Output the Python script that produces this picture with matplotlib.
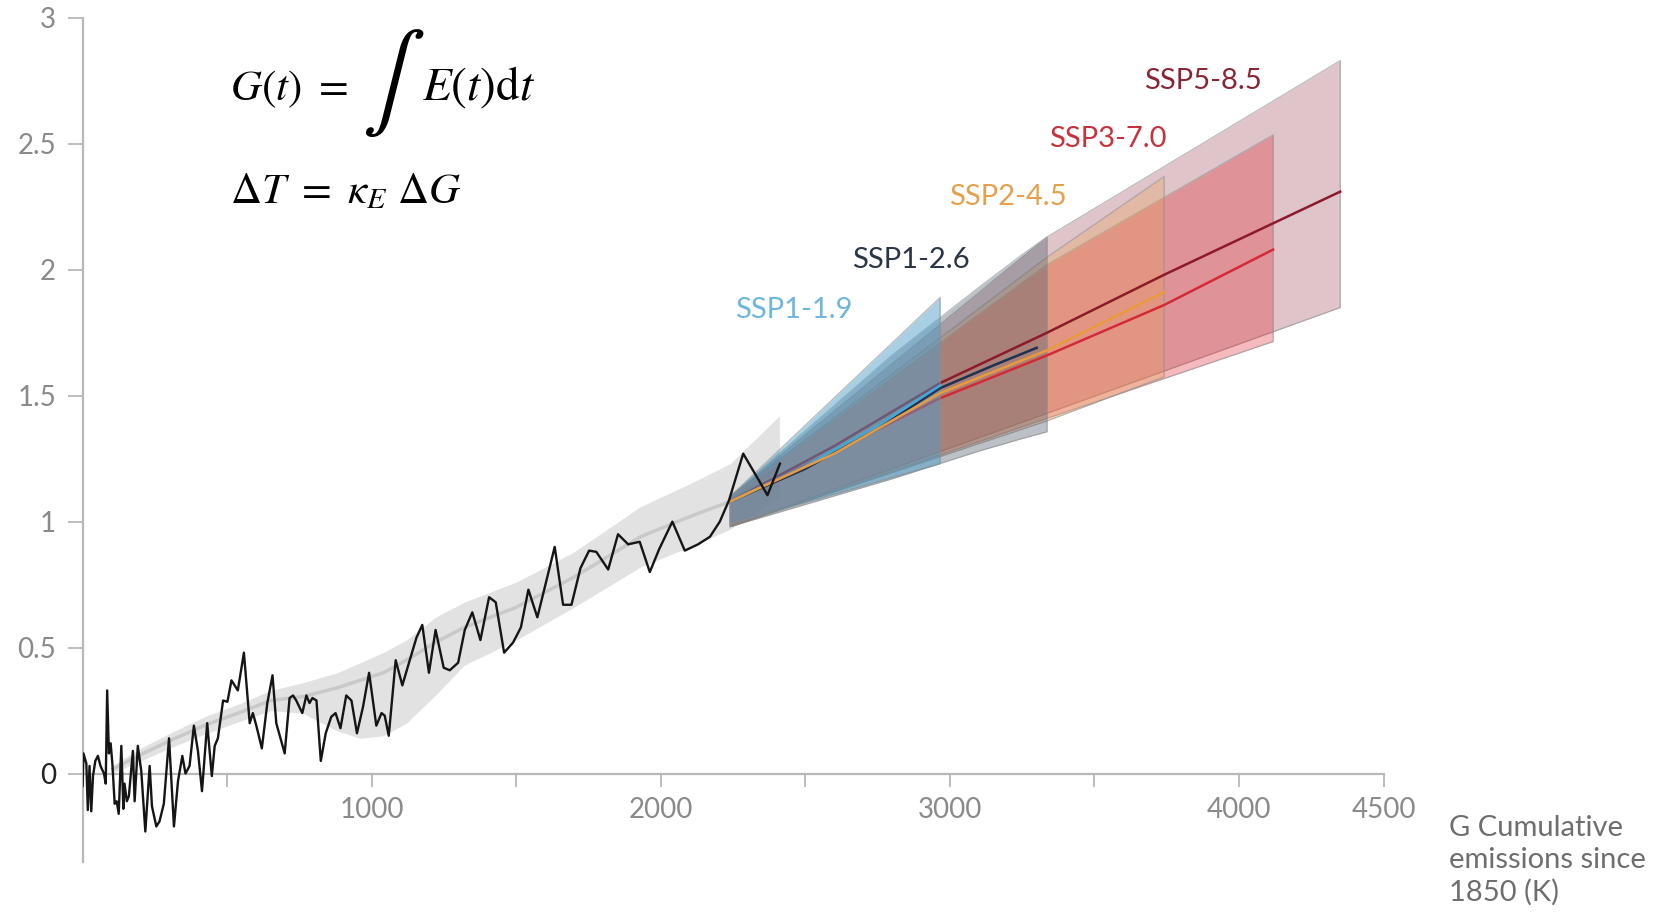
import numpy as np
import matplotlib.pyplot as plt
from matplotlib.ticker import FixedLocator, FixedFormatter

plt.rcParams['font.family'] = ['Lato', 'DejaVu Sans']
plt.rcParams['mathtext.fontset'] = 'stix'

# Observed warming (K) against cumulative emissions since 1850
hist_G = [0, 3, 13, 18, 24, 30, 36, 44, 53, 62, 74, 80, 85, 91, 97, 103, 111, 118, 125, 134,
          141, 145, 153, 160, 174, 180, 191, 203, 217, 232, 240, 255, 266, 281, 299, 316, 330,
          345, 356, 370, 385, 399, 413, 431, 447, 457, 468, 486, 501, 515, 537, 558, 578, 589,
          601, 620, 639, 657, 670, 699, 716, 728, 739, 760, 774, 785, 795, 809, 824, 841, 860,
          875, 892, 912, 930, 949, 970, 991, 1016, 1034, 1045, 1059, 1083, 1106, 1129, 1155,
          1175, 1198, 1221, 1249, 1270, 1299, 1322, 1348, 1376, 1406, 1429, 1458, 1489, 1516,
          1542, 1573, 1602, 1633, 1662, 1691, 1722, 1752, 1777, 1818, 1852, 1887, 1927, 1962,
          1994, 2040, 2083, 2129, 2170, 2204, 2236, 2285, 2331, 2369, 2412]
hist_T = [-0.05, 0.08, 0.04, -0.145, 0.03, -0.15, -0.01, 0.05, 0.07, 0.03, 0.0, -0.04, 0.33,
          0.08, 0.12, 0.04, -0.12, -0.11, -0.16, 0.11, -0.14, -0.04, -0.11, -0.09, 0.09, -0.11,
          0.11, 0.01, -0.23, 0.03, -0.13, -0.21, -0.19, -0.12, 0.14, -0.21, -0.03, 0.07, 0.0,
          0.03, 0.19, 0.09, -0.07, 0.20, -0.01, 0.11, 0.14, 0.29, 0.285, 0.37, 0.33, 0.48, 0.20,
          0.24, 0.19, 0.10, 0.28, 0.39, 0.20, 0.08, 0.30, 0.31, 0.29, 0.24, 0.31, 0.28, 0.30,
          0.29, 0.05, 0.16, 0.225, 0.24, 0.18, 0.31, 0.29, 0.16, 0.265, 0.40, 0.19, 0.24, 0.23,
          0.15, 0.45, 0.35, 0.44, 0.54, 0.59, 0.40, 0.57, 0.42, 0.41, 0.44, 0.57, 0.64, 0.53,
          0.70, 0.68, 0.48, 0.52, 0.58, 0.73, 0.62, 0.755, 0.90, 0.67, 0.67, 0.815, 0.885, 0.88,
          0.81, 0.95, 0.91, 0.92, 0.80, 0.89, 1.0, 0.885, 0.91, 0.94, 1.0, 1.085, 1.27, 1.18,
          1.105, 1.23]

# Smoothed attributable warming with its range
band_G = [100, 200, 320, 430, 550, 650, 760, 880, 960, 1040, 1120, 1220, 1320, 1500, 1700,
          1930, 2100, 2240, 2410]
band_hi = [0.03, 0.10, 0.17, 0.23, 0.28, 0.33, 0.36, 0.40, 0.44, 0.48, 0.53, 0.62, 0.68, 0.76,
           0.88, 1.06, 1.15, 1.23, 1.42]
band_lo = [0.00, 0.05, 0.11, 0.16, 0.21, 0.25, 0.24, 0.17, 0.14, 0.15, 0.20, 0.31, 0.43, 0.53,
           0.66, 0.82, 0.90, 0.97, 1.10]
band_mid = [0.015, 0.075, 0.14, 0.195, 0.245, 0.29, 0.305, 0.34, 0.37, 0.40, 0.45, 0.52, 0.58,
            0.66, 0.78, 0.94, 1.02, 1.08, 1.22]

# Scenario projections: median lines and likely ranges
scen_names = ['SSP5-8.5', 'SSP3-7.0', 'SSP2-4.5', 'SSP1-2.6', 'SSP1-1.9']

ssp585_G = [2240, 2600, 2966, 3336, 3741, 4350]
ssp585_T = [1.08, 1.30, 1.55, 1.75, 1.98, 2.31]
ssp585_rng_G = [2240, 3336, 4350]
ssp585_hi = [1.10, 2.13, 2.83]
ssp585_lo = [0.98, 1.43, 1.85]

ssp370_G = [2240, 2600, 2966, 3336, 3741, 4118]
ssp370_T = [1.08, 1.28, 1.49, 1.66, 1.86, 2.08]
ssp370_rng_G = [2240, 3336, 4118]
ssp370_hi = [1.10, 2.02, 2.535]
ssp370_lo = [0.98, 1.41, 1.715]

ssp245_G = [2240, 2600, 2966, 3336, 3741]
ssp245_T = [1.08, 1.27, 1.51, 1.68, 1.91]
ssp245_rng_G = [2240, 3336, 3741]
ssp245_hi = [1.10, 2.05, 2.37]
ssp245_lo = [0.98, 1.40, 1.575]

ssp126_G = [2240, 2500, 2750, 2966, 3150, 3300]
ssp126_T = [1.08, 1.21, 1.37, 1.53, 1.62, 1.69]
ssp126_rng_G = [2240, 2800, 3100, 3250, 3336]
ssp126_hi = [1.10, 1.66, 1.93, 2.06, 2.13]
ssp126_lo = [0.98, 1.17, 1.28, 1.33, 1.357]

ssp119_G = [2240, 2500, 2750, 2966]
ssp119_T = [1.08, 1.22, 1.38, 1.54]
ssp119_rng_G = [2240, 2966]
ssp119_hi = [1.10, 1.89]
ssp119_lo = [0.99, 1.23]

line_colors = ['#8c1a2a', '#d42a37', '#e89a3c', '#1f3050', '#3fa9dc']
fill_colors = ['#96404e', '#e01d25', '#eaa050', '#4d5e6a', '#4a9cc8']
fill_alpha = [0.30, 0.30, 0.30, 0.38, 0.48]
line_z = [2.35, 2.35, 3.2, 3.0, 3.1]
text_colors = ['#8a2535', '#c8303c', '#e6a04a', '#2a3548', '#6db6dc']
label_G = [3874, 3546, 3200, 2865, 2460]
label_T = [2.75, 2.52, 2.29, 2.04, 1.84]

fig = plt.figure(figsize=(16.55, 9.14), dpi=100)
ax = fig.add_axes([0.0499, 0.0572, 0.7861, 0.9233])

# historical range and smoothed curve
ax.fill_between(band_G, band_lo, band_hi, color='#e2e2e2', lw=0, zorder=1)
ax.plot(band_G, band_mid, color='#c9c9c9', lw=2.5, zorder=1.1, solid_capstyle='butt')

fans = [(ssp585_rng_G, ssp585_lo, ssp585_hi), (ssp370_rng_G, ssp370_lo, ssp370_hi),
        (ssp245_rng_G, ssp245_lo, ssp245_hi), (ssp126_rng_G, ssp126_lo, ssp126_hi),
        (ssp119_rng_G, ssp119_lo, ssp119_hi)]
medians = [(ssp585_G, ssp585_T), (ssp370_G, ssp370_T), (ssp245_G, ssp245_T),
           (ssp126_G, ssp126_T), (ssp119_G, ssp119_T)]

for i, name in enumerate(scen_names):
    g, lo, hi = fans[i]
    z = 2 + 0.1 * i
    ax.fill_between(g, lo, hi, color=fill_colors[i], alpha=fill_alpha[i], lw=0, zorder=z)
    # thin outline round each range
    ax.plot(list(g) + [g[-1]] + list(g[::-1]) + [g[0]],
            list(hi) + [lo[-1]] + list(lo[::-1]) + [hi[0]],
            color='#8e8e8e', lw=0.9, alpha=0.6, zorder=z)
    ax.plot(medians[i][0], medians[i][1], color=line_colors[i], lw=1.8, zorder=line_z[i])
    ax.text(label_G[i], label_T[i], name, color=text_colors[i], fontsize=21,
            ha='center', va='center')

ax.plot(hist_G, hist_T, color='#151515', lw=1.7, zorder=4)

# axes styling
ax.set_xlim(0, 4500)
ax.set_ylim(-0.35, 3)
for side in ['top', 'right']:
    ax.spines[side].set_visible(False)
ax.spines['bottom'].set_position(('data', 0))
for side in ['bottom', 'left']:
    ax.spines[side].set_color('#b8b8b8')
    ax.spines[side].set_linewidth(1.6)

ax.yaxis.set_major_locator(FixedLocator([0, 0.5, 1, 1.5, 2, 2.5, 3]))
ax.yaxis.set_major_formatter(FixedFormatter(['0', '0.5', '1', '1.5', '2', '2.5', '3']))
ax.xaxis.set_major_locator(FixedLocator([500, 1000, 1500, 2000, 2500, 3000, 3500, 4000, 4500]))
ax.xaxis.set_major_formatter(FixedFormatter(['', '1000', '', '2000', '', '3000', '', '4000', '4500']))
ax.tick_params(axis='y', length=11, width=1.3, color='#b8b8b8', labelsize=20,
               labelcolor='#8a8a8a', pad=8)
ax.tick_params(axis='x', length=9, width=1.3, color='#b8b8b8', labelsize=20,
               labelcolor='#8a8a8a', pad=8)
ax.get_yticklabels()[0].set_color('#222222')

# governing relations
fig.text(0.139, 0.8906, r'$G(t)\ =$', fontsize=31, ha='left', va='baseline')
fig.text(0.2185, 0.909, r'$\int$', fontsize=68, ha='left', va='center')
fig.text(0.2550, 0.8906, r'$E(t)\mathrm{d}t$', fontsize=34, ha='left', va='baseline')
fig.text(0.139, 0.7780, r'$\Delta T\ =\ \kappa_E\ \Delta G$', fontsize=31, ha='left',
         va='baseline')

fig.text(0.8755, 0.108, 'G Cumulative\nemissions since\n1850 (K)', fontsize=21,
         color='#6e6e6e', ha='left', va='top', linespacing=1.28)

fig.savefig('out.png', dpi=100, facecolor='white')
